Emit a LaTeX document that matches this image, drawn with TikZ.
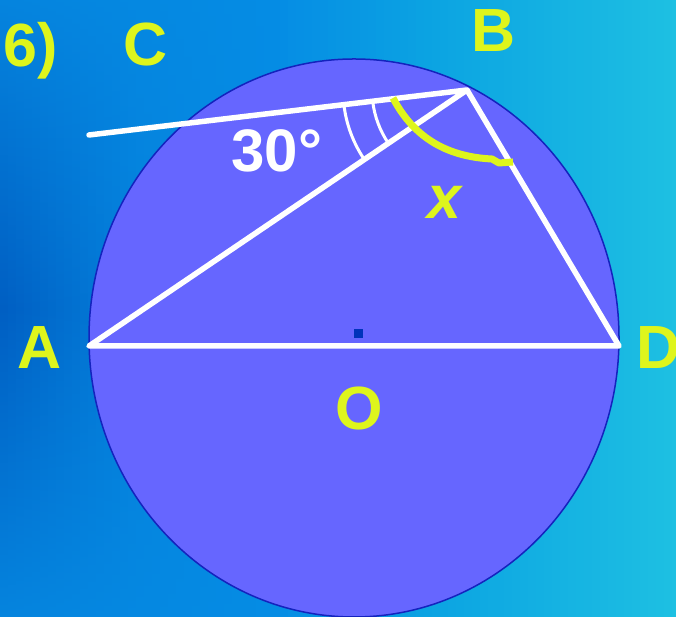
\documentclass[tikz,border=0pt]{standalone}
\usepackage{fontspec}
\setmainfont{Liberation Sans}
\usetikzlibrary{calc,shapes.geometric}
\definecolor{ylw}{RGB}{222,245,28}
\definecolor{disc}{RGB}{102,102,255}
\definecolor{rim}{RGB}{20,35,190}
\definecolor{dotc}{RGB}{0,51,187}
\tikzset{
  lbl/.style={text=ylw, inner sep=0pt, font=\fontsize{61}{61}\selectfont\bfseries},
  seg/.style={draw=white, line width=5.5pt, line join=round, line cap=round},
  mark arc/.style={draw=white, line width=3pt},
  xarc/.style={draw=ylw, line width=7pt, line join=round}
}
\begin{document}
\begin{tikzpicture}[x=1pt, y=1pt]
\useasboundingbox (0,0) rectangle (676,617);
% background: vertical strips, each with its own top/middle/bottom colours
\foreach \i in {0,...,84} {
  \pgfmathsetmacro\xx{\i*8}
  \pgfmathsetmacro\t{\xx/676}
  \pgfmathsetmacro\tr{(\t<0.4 ? 5 : (\t<0.65 ? 5+(\t-0.4)/0.25*7 : 12+(\t-0.65)/0.35*18))/255}
  \pgfmathsetmacro\tg{(\t<0.4 ? 132+\t/0.4*8 : (\t<0.65 ? 140+(\t-0.4)/0.25*25 : 165+(\t-0.65)/0.35*27))/255}
  \pgfmathsetmacro\tb{(\t<0.4 ? 222+\t/0.4*6 : (\t<0.65 ? 228-(\t-0.4)/0.25*2 : 226))/255}
  \pgfmathsetmacro\mr{(\t<0.2 ? \t/0.2*4 : (\t<0.4 ? 4+(\t-0.2)/0.2*1 : (\t<0.65 ? 5+(\t-0.4)/0.25*7 : 12+(\t-0.65)/0.35*18)))/255}
  \pgfmathsetmacro\mg{(\t<0.2 ? 95+\t/0.2*33 : (\t<0.4 ? 128+(\t-0.2)/0.2*12 : (\t<0.65 ? 140+(\t-0.4)/0.25*25 : 165+(\t-0.65)/0.35*27)))/255}
  \pgfmathsetmacro\mb{(\t<0.2 ? 195+\t/0.2*25 : (\t<0.4 ? 220+(\t-0.2)/0.2*8 : (\t<0.65 ? 228-(\t-0.4)/0.25*2 : 226)))/255}
  \definecolor{stripT}{rgb}{\tr,\tg,\tb}
  \definecolor{stripM}{rgb}{\mr,\mg,\mb}
  \shade[top color=stripT, bottom color=stripT, middle color=stripM] (\xx,0) rectangle ({\xx+9},617);
}
% circle
\node[ellipse, minimum width=530pt, minimum height=558pt, fill=disc, draw=rim, line width=1.5pt, inner sep=0pt] (circ) at (354,279) {};
% points
\coordinate (A) at (89,271);
\coordinate (D) at (619,271);
\coordinate (B) at (467,527);
\coordinate (C) at (89,482);
% centre dot
\node[fill=dotc, minimum size=9pt, inner sep=0pt] (O) at (358.5,283.5) {};
% lines
\draw[seg] (C) -- (B) -- (D) -- (A) -- (B);
% angle marks
\draw[mark arc] ($(B)+(186.8:124)$) arc[start angle=186.8, end angle=214.1, radius=124];
\draw[mark arc] ($(B)+(186.8:95)$) arc[start angle=186.8, end angle=214.1, radius=95];
% x angle
\draw[xarc] (393,519) .. controls (415,477) and (450,460) .. (492,458) -- (499,454) -- (513,455);
% labels
\node[lbl, anchor=base west] (six) at (3,550) {6)};
\node[lbl] (lC) at (146,572) {C};
\node[lbl] (lB) at (494,586) {B};
\node[lbl] (lA) at (40,269) {A};
\node[lbl] (lD) at (659,269) {D};
\node[lbl] (lO) at (359,208) {O};
\node[lbl, font=\fontsize{61}{61}\selectfont\bfseries\itshape] (lx) at (444,415) {x};
\node[lbl, text=white, font=\fontsize{60}{60}\selectfont\bfseries] (l30) at (277,466) {30°};
\end{tikzpicture}
\end{document}
